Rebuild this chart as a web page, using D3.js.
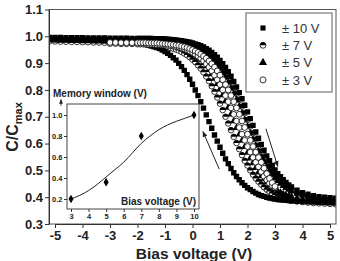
<!DOCTYPE html>
<html><head><meta charset="utf-8">
<script src="https://cdn.jsdelivr.net/npm/d3@7"></script>
<style>body{margin:0;background:#fff}svg{display:block}</style>
</head><body>
<svg id="c" width="340" height="261"></svg>
<script>
// ---------- data ----------
const volt = [-5.2,-5.0,-4.8,-4.6,-4.4,-4.2,-4.0,-3.8,-3.6,-3.4,-3.2,-3.0,-2.8,-2.6,-2.4,-2.2,-2.0,
-1.9,-1.8,-1.7,-1.6,-1.5,-1.4,-1.3,-1.2,-1.1,-1.0,-0.9,-0.8,-0.7,-0.6,-0.5,-0.4,-0.3,-0.2,-0.1,0.0,
0.1,0.2,0.3,0.4,0.5,0.6,0.7,0.8,0.9,1.0,1.1,1.2,1.3,1.4,1.5,1.6,1.7,1.8,1.9,2.0,2.1,2.2,2.3,2.4,2.5,2.6,2.7,2.8,2.9,3.0,3.1,3.2,3.3,3.4,3.5,
3.6,3.8,4.0,4.2,4.4,4.6,4.8,5.0,5.2];

// +-10 V sweep (squares)
const c10fwd = [0.996,0.996,0.996,0.995,0.995,0.995,0.995,0.994,0.994,0.994,0.994,0.993,0.993,0.993,0.993,0.992,0.992,
0.992,0.992,0.992,0.992,0.992,0.991,0.991,0.991,0.991,0.990,0.989,0.988,0.987,0.986,0.985,0.984,0.982,0.980,0.978,0.975,
0.972,0.969,0.965,0.960,0.954,0.948,0.940,0.931,0.922,0.910,0.898,0.884,0.868,0.851,0.832,0.811,0.790,0.767,0.743,0.718,0.693,0.668,0.643,0.620,0.597,0.575,0.554,0.536,0.518,0.502,0.488,0.476,0.465,0.455,0.446,
0.438,0.426,0.417,0.411,0.406,0.402,0.400,0.398,0.396];
const c10rev = [0.987,0.987,0.986,0.986,0.985,0.985,0.984,0.984,0.983,0.983,0.982,0.981,0.980,0.979,0.978,0.976,0.974,
0.973,0.971,0.969,0.967,0.964,0.961,0.958,0.954,0.949,0.943,0.937,0.929,0.920,0.911,0.899,0.887,0.873,0.857,0.840,0.821,
0.800,0.779,0.756,0.732,0.707,0.682,0.657,0.632,0.609,0.586,0.564,0.543,0.525,0.507,0.491,0.477,0.465,0.454,0.444,0.435,0.428,0.421,0.415,0.410,0.406,0.403,0.400,0.397,0.395,0.393,0.391,0.390,0.389,0.388,0.387,
0.386,0.385,0.384,0.383,0.382,0.381,0.380,0.379,0.378];
// +-7 V sweep (half-filled circles)
const c7fwd = [0.992,0.992,0.992,0.991,0.991,0.991,0.991,0.990,0.990,0.990,0.990,0.989,0.989,0.989,0.989,0.988,0.988,
0.988,0.988,0.988,0.987,0.987,0.987,0.987,0.986,0.986,0.984,0.983,0.982,0.981,0.980,0.979,0.977,0.975,0.973,0.970,0.967,
0.964,0.960,0.955,0.949,0.943,0.935,0.926,0.917,0.905,0.893,0.879,0.863,0.846,0.827,0.806,0.785,0.762,0.738,0.713,0.688,0.663,0.638,0.615,0.592,0.570,0.549,0.531,0.513,0.497,0.483,0.471,0.460,0.450,0.441,0.434,
0.427,0.416,0.409,0.403,0.399,0.396,0.394,0.392,0.391];
const c7rev = [0.981,0.981,0.980,0.980,0.979,0.979,0.978,0.978,0.977,0.977,0.976,0.976,0.975,0.975,0.974,0.974,0.973,
0.972,0.972,0.971,0.970,0.969,0.968,0.967,0.966,0.964,0.962,0.960,0.957,0.954,0.951,0.947,0.942,0.936,0.930,0.922,0.913,
0.904,0.892,0.880,0.866,0.850,0.833,0.814,0.793,0.772,0.749,0.725,0.700,0.675,0.650,0.625,0.602,0.579,0.557,0.536,0.518,0.500,0.484,0.470,0.458,0.447,0.437,0.428,0.421,0.414,0.408,0.403,0.399,0.396,0.393,0.390,
0.388,0.384,0.382,0.380,0.378,0.377,0.376,0.375,0.374];
// +-5 V sweep (triangles)
const c5fwd = [null,0.990,0.990,0.990,0.989,0.989,0.989,0.989,0.988,0.988,0.988,0.988,0.987,0.987,0.987,0.987,0.987,
0.986,0.986,0.986,0.986,0.986,0.985,0.985,0.985,0.985,0.984,0.983,0.982,0.981,0.980,0.978,0.976,0.974,0.971,0.968,0.965,
0.961,0.956,0.950,0.944,0.936,0.927,0.918,0.906,0.894,0.880,0.864,0.847,0.828,0.807,0.786,0.763,0.739,0.714,0.689,0.664,0.639,0.616,0.593,0.571,0.550,0.532,0.514,0.498,0.484,0.472,0.461,0.451,0.442,0.435,0.428,
0.422,0.413,0.407,0.402,0.398,0.396,0.394,0.392,null];
const c5rev = [null,0.986,0.986,0.986,0.985,0.985,0.985,0.985,0.984,0.984,0.984,0.984,0.983,0.983,0.983,0.983,0.982,
0.982,0.982,0.981,0.981,0.980,0.979,0.978,0.977,0.976,0.975,0.973,0.971,0.969,0.966,0.963,0.960,0.956,0.951,0.945,0.939,
0.931,0.922,0.913,0.901,0.889,0.875,0.859,0.842,0.823,0.802,0.781,0.758,0.734,0.709,0.684,0.659,0.634,0.611,0.588,0.566,0.545,0.527,0.509,0.493,0.479,0.467,0.456,0.446,0.437,0.430,0.423,0.417,0.412,0.408,0.405,
0.402,0.397,0.393,0.391,0.389,0.387,0.386,0.385,null];
// +-3 V sweep (open circles)
const c3fwd = [null,null,null,null,null,null,null,null,null,null,null,0.977,0.977,0.976,0.976,0.976,0.976,
0.976,0.976,0.976,0.975,0.975,0.975,0.975,0.974,0.973,0.972,0.971,0.970,0.969,0.967,0.966,0.963,0.961,0.958,0.954,0.950,
0.945,0.940,0.933,0.926,0.918,0.908,0.897,0.885,0.871,0.855,0.838,0.820,0.800,0.779,0.756,0.733,0.709,0.684,0.660,0.635,0.612,0.589,0.568,0.548,0.530,0.508,0.488,0.470,0.454,0.440,
null,null,null,null,null,null,null,null,null,null,null,null,null,null];
const c3rev = [null,null,null,null,null,null,null,null,null,null,null,0.973,0.973,0.972,0.972,0.972,0.971,
0.971,0.971,0.971,0.970,0.970,0.970,0.969,0.969,0.968,0.967,0.966,0.965,0.964,0.962,0.960,0.957,0.954,0.950,0.945,0.940,
0.933,0.926,0.918,0.908,0.897,0.885,0.871,0.855,0.838,0.820,0.800,0.779,0.756,0.733,0.709,0.684,0.660,0.635,0.612,0.589,0.568,0.548,0.530,0.513,0.495,0.478,0.464,0.452,0.443,0.436,
null,null,null,null,null,null,null,null,null,null,null,null,null,null];

const sweepLabels = ["\u00b1 10 V","\u00b1 7 V","\u00b1 5 V","\u00b1 3 V"];
const sweepKinds = ["square","half","triangle","open"];
const xTicks = [-5,-4,-3,-2,-1,0,1,2,3,4,5];
const yTicks = [0.3,0.4,0.5,0.6,0.7,0.8,0.9,1.0,1.1];

// inset: memory window vs sweep bias
const insetBias = [3,5,7,10];
const insetWindow = [0.20,0.36,0.80,1.00];
const fitBias = [3,3.5,4,4.5,5,5.5,6,6.5,7,7.5,8,8.5,9,9.5,10];
const fitWindow = [0.20,0.235,0.28,0.34,0.41,0.48,0.55,0.64,0.73,0.80,0.86,0.905,0.94,0.97,1.00];
const insetXTicks = [3,4,5,6,7,8,9,10];
const insetYTicks = [0.2,0.4,0.6,0.8,1.0];

// ---------- drawing ----------
const svg = d3.select("#c");
const FONT = "'Liberation Sans', Arial, Helvetica, sans-serif";
const plot = {l:49, r:336, t:9.5, b:224};
const x = d3.scaleLinear().domain([-5,5]).range([55,330]);
const y = d3.scaleLinear().domain([0.3,1.1]).range([plot.b, plot.t]);

const defs = svg.append("defs");
defs.append("clipPath").attr("id","pc").append("rect")
  .attr("x",plot.l).attr("y",plot.t).attr("width",plot.r-plot.l).attr("height",plot.b-plot.t);
defs.append("marker").attr("id","ah").attr("viewBox","0 0 10 10").attr("refX",9).attr("refY",5)
  .attr("markerWidth",6).attr("markerHeight",6).attr("orient","auto-start-reverse")
  .append("path").attr("d","M0,1 L10,5 L0,9 Z").attr("fill","#222");

function drawMarker(sel, kind, s) {
  s = s || 1;
  if (kind === "square") {
    sel.append("path").attr("d", d3.symbol(d3.symbolSquare, 29*s*s)()).attr("fill","#000");
  } else if (kind === "triangle") {
    sel.append("path").attr("d", d3.symbol(d3.symbolTriangle, 24*s*s)()).attr("fill","#000");
  } else if (kind === "open") {
    sel.append("circle").attr("r",2.9*s).attr("fill","#fff").attr("stroke","#000").attr("stroke-width",0.8);
  } else {
    const r = 2.8*s;
    sel.append("circle").attr("r",r).attr("fill","#fff").attr("stroke","#000").attr("stroke-width",0.8);
    sel.append("path").attr("d",`M${-r},0 A${r},${r} 0 0 1 ${r},0 Z`).attr("fill","#000");
  }
}

const dataG = svg.append("g").attr("clip-path","url(#pc)");
const seriesByKind = {
  square: [c10rev, c10fwd], half: [c7rev, c7fwd], triangle: [c5rev, c5fwd], open: [c3rev, c3fwd]
};
["half","triangle","square","open"].forEach(kind => {
  seriesByKind[kind].forEach(arr => {
    const pts = volt.map((v,i)=>({v, c:arr[i]})).filter(d=>d.c!=null);
    dataG.append("g").selectAll("g").data(pts).join("g")
      .attr("transform", d=>`translate(${x(d.v)},${y(d.c)})`)
      .each(function(){ drawMarker(d3.select(this), kind); });
  });
});

// frame
svg.append("rect").attr("x",plot.l).attr("y",plot.t).attr("width",plot.r-plot.l).attr("height",plot.b-plot.t)
  .attr("fill","none").attr("stroke","#555").attr("stroke-width",1);

// axes
const yAx = svg.append("g").attr("transform",`translate(${plot.l},0)`)
  .call(d3.axisLeft(y).tickValues(yTicks).tickSize(4).tickSizeOuter(0).tickPadding(2).tickFormat(d3.format(".1f")));
const xAx = svg.append("g").attr("transform",`translate(0,${plot.b})`)
  .call(d3.axisBottom(x).tickValues(xTicks).tickSize(4).tickSizeOuter(0).tickPadding(3).tickFormat(d=>String(d)));
[yAx,xAx].forEach(a=>{
  a.select(".domain").attr("stroke","#333");
  a.selectAll(".tick line").attr("stroke","#333");
  a.selectAll("text").attr("font-family",FONT).attr("font-weight","bold").attr("font-size",13).attr("fill","#222");
});

// axis titles
svg.append("text").attr("x",194).attr("y",259).attr("text-anchor","middle")
  .attr("font-family",FONT).attr("font-weight","bold").attr("font-size",15.5).attr("fill","#222")
  .text("Bias voltage (V)");
const yt = svg.append("text").attr("transform","translate(18,127) rotate(-90)").attr("text-anchor","middle")
  .attr("font-family",FONT).attr("font-weight","bold").attr("font-size",16).attr("fill","#222");
yt.append("tspan").text("C/C");
yt.append("tspan").attr("dy",4).attr("font-size",11).text("max");

// sweep-direction arrows
svg.append("line").attr("x1",x(0.97)).attr("y1",y(0.505)).attr("x2",x(0.38)).attr("y2",y(0.645))
  .attr("stroke","#222").attr("stroke-width",1).attr("marker-end","url(#ah)");
svg.append("line").attr("x1",x(2.67)).attr("y1",y(0.655)).attr("x2",x(3.1)).attr("y2",y(0.515))
  .attr("stroke","#222").attr("stroke-width",1).attr("marker-end","url(#ah)");

// legend
const lg = svg.append("g");
lg.append("rect").attr("x",246).attr("y",13).attr("width",86).attr("height",79)
  .attr("fill","#fff").attr("stroke","#777").attr("stroke-width",1.2);
sweepLabels.forEach((lab,i)=>{
  const ry = 28 + i*17.3;
  const m = lg.append("g").attr("transform",`translate(263,${ry})`);
  drawMarker(m, sweepKinds[i], i===0?0.95:(i===2?1.1:1.05));
  lg.append("text").attr("x",282).attr("y",ry).attr("dy","0.36em")
    .attr("font-family",FONT).attr("font-size",13).attr("fill","#333").text(lab);
});

// inset
const ib = {l:67, r:199, t:104, b:209};
const ix = d3.scaleLinear().domain([3,10]).range([71,194]);
const iy = d3.scaleLinear().domain([0.2,1.0]).range([199,115]);
svg.append("rect").attr("x",ib.l).attr("y",ib.t).attr("width",ib.r-ib.l).attr("height",ib.b-ib.t)
  .attr("fill","#fff").attr("stroke","#444").attr("stroke-width",1);
const iyAx = svg.append("g").attr("transform",`translate(${ib.l},0)`)
  .call(d3.axisLeft(iy).tickValues(insetYTicks).tickSize(3).tickSizeOuter(0).tickPadding(1.5).tickFormat(d3.format(".1f")));
const ixAx = svg.append("g").attr("transform",`translate(0,${ib.b})`)
  .call(d3.axisBottom(ix).tickValues(insetXTicks).tickSize(3).tickSizeOuter(0).tickPadding(2).tickFormat(d=>String(d)));
[iyAx,ixAx].forEach(a=>{
  a.select(".domain").remove();
  a.selectAll(".tick line").attr("stroke","#333");
  a.selectAll("text").attr("font-family",FONT).attr("font-weight","bold").attr("font-size",7.5).attr("fill","#222");
});
svg.append("path").datum(fitBias.map((b,i)=>[b,fitWindow[i]]))
  .attr("d", d3.line().x(d=>ix(d[0])).y(d=>iy(d[1])).curve(d3.curveMonotoneX))
  .attr("fill","none").attr("stroke","#222").attr("stroke-width",1);
svg.append("g").selectAll("path").data(insetBias.map((b,i)=>[b,insetWindow[i]])).join("path")
  .attr("transform",d=>`translate(${ix(d[0])},${iy(d[1])})`)
  .attr("d", d3.symbol(d3.symbolDiamond, 22)()).attr("fill","#000");
svg.append("text").attr("x",53).attr("y",97)
  .attr("font-family",FONT).attr("font-weight","bold").attr("font-size",10).attr("fill","#222")
  .text("Memory window (V)");
svg.append("line").attr("x1",61).attr("y1",106).attr("x2",61).attr("y2",99.5)
  .attr("stroke","#222").attr("stroke-width",0.8).attr("marker-end","url(#ah)");
svg.append("text").attr("x",196).attr("y",205).attr("text-anchor","end")
  .attr("font-family",FONT).attr("font-weight","bold").attr("font-size",10).attr("fill","#222")
  .text("Bias voltage (V)");
</script>
</body></html>
